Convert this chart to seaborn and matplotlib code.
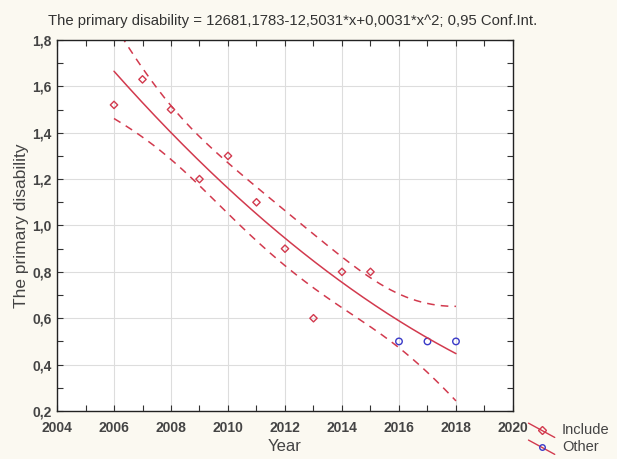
import numpy as np
import pandas as pd
import matplotlib
matplotlib.use("Agg")
import matplotlib.pyplot as plt
import seaborn as sns
from matplotlib.lines import Line2D
from matplotlib.legend_handler import HandlerLine2D
from matplotlib.ticker import MultipleLocator, FuncFormatter

# data
years_include = [2006, 2007, 2008, 2009, 2010, 2011, 2012, 2013, 2014, 2015]
vals_include = [1.52, 1.63, 1.50, 1.20, 1.30, 1.10, 0.90, 0.60, 0.80, 0.80]
years_other = [2016, 2017, 2018]
vals_other = [0.50, 0.50, 0.50]
x_ticks = [2004, 2006, 2008, 2010, 2012, 2014, 2016, 2018, 2020]
y_ticks = [0.2, 0.4, 0.6, 0.8, 1.0, 1.2, 1.4, 1.6, 1.8]
title = "The primary disability = 12681,1783-12,5031*x+0,0031*x^2; 0,95 Conf.Int."

RED = "#d23a4e"
BLUE = "#3a3ac8"
BG = "#fbf9f1"

sns.set_style("white")
plt.rcParams['font.family'] = ['Liberation Sans', 'DejaVu Sans']

# quadratic fit with 0.95 CI (all cases)
x_all = np.array(years_include + years_other, dtype=float)
y_all = np.array(vals_include + vals_other, dtype=float)
xc = x_all - x_all.mean()
X = np.column_stack([np.ones_like(xc), xc, xc ** 2])
beta, *_ = np.linalg.lstsq(X, y_all, rcond=None)
resid = y_all - X @ beta
n, p = X.shape
s2 = resid @ resid / (n - p)
cov = s2 * np.linalg.inv(X.T @ X)
tval = 2.228  # t(0.975, 10)
xs = np.linspace(x_all.min(), x_all.max(), 200)
xsc = xs - x_all.mean()
Xs = np.column_stack([np.ones_like(xsc), xsc, xsc ** 2])
fit = Xs @ beta
se = np.sqrt(np.einsum('ij,jk,ik->i', Xs, cov, Xs))
fit_df = pd.DataFrame({"x": xs, "fit": fit, "lo": fit - tval * se, "hi": fit + tval * se})

fig = plt.figure(figsize=(6.17, 4.59), dpi=100, facecolor=BG)
ax = fig.add_axes([0.0924, 0.1046, 0.739, 0.8083])
ax.set_facecolor("white")

sns.lineplot(data=fit_df, x="x", y="fit", ax=ax, color=RED, lw=1.1)
sns.lineplot(data=fit_df, x="x", y="lo", ax=ax, color=RED, lw=1.1, dashes=False, linestyle=(0, (5, 4)))
sns.lineplot(data=fit_df, x="x", y="hi", ax=ax, color=RED, lw=1.1, dashes=False, linestyle=(0, (5, 4)))

inc_df = pd.DataFrame({"x": years_include, "y": vals_include})
oth_df = pd.DataFrame({"x": years_other, "y": vals_other})
sns.scatterplot(data=inc_df, x="x", y="y", ax=ax, marker="D", s=14,
                facecolors="none", edgecolor=RED, linewidth=1.0)
sns.scatterplot(data=oth_df, x="x", y="y", ax=ax, marker="o", s=22,
                facecolors="none", edgecolor=BLUE, linewidth=1.0)

ax.set_xlim(2004, 2020)
ax.set_ylim(0.2, 1.8)
ax.set_xticks(x_ticks)
ax.set_yticks(y_ticks)
ax.xaxis.set_minor_locator(MultipleLocator(1))
ax.yaxis.set_minor_locator(MultipleLocator(0.1))
ax.yaxis.set_major_formatter(FuncFormatter(lambda v, _: f"{v:.1f}".replace(".", ",")))
ax.tick_params(which="both", direction="in", top=True, right=True, bottom=True, left=True,
               length=4, width=0.8, color="#333333")
ax.tick_params(which="major", labelsize=10, labelcolor="#444444", pad=4)
ax.tick_params(axis="x", which="major", pad=7)
for lab in ax.get_xticklabels() + ax.get_yticklabels():
    lab.set_fontweight("bold")
ax.grid(True, which="major", color="#dddddd", lw=0.8)
for sp in ax.spines.values():
    sp.set_color("#222222")
    sp.set_linewidth(1.0)

ax.set_xlabel("Year", fontsize=12, color="#444444", labelpad=3)
ax.set_ylabel("The primary disability", fontsize=12.5, color="#444444")
ax.yaxis.set_label_coords(-0.062, 0.5)
fig.text(0.078, 0.955, title, fontsize=10.7, color="#333333", ha="left", va="center")


class DiagHandler(HandlerLine2D):
    def create_artists(self, legend, orig_handle, xdescent, ydescent, width, height, fontsize, trans):
        x0, x1 = -xdescent, -xdescent + width
        y0, y1 = -ydescent + height * 1.1, -ydescent - height * 0.3
        line = Line2D([x0, x1], [y0, y1], color=RED, lw=1.0)
        mk = Line2D([(x0 + x1) / 2], [(y0 + y1) / 2], marker=orig_handle.get_marker(),
                    markersize=4, markerfacecolor="none",
                    markeredgecolor=orig_handle.get_markeredgecolor(), linestyle="none")
        line.set_transform(trans)
        mk.set_transform(trans)
        return [line, mk]


h1 = Line2D([], [], marker="D", markeredgecolor=RED, markerfacecolor="none", color=RED)
h2 = Line2D([], [], marker="o", markeredgecolor=BLUE, markerfacecolor="none", color=RED)
fig.legend([h1, h2], ["Include", "Other"], loc="lower left", bbox_to_anchor=(0.84, -0.012),
           frameon=False, handler_map={Line2D: DiagHandler()}, fontsize=10.5,
           handlelength=1.8, handletextpad=0.5, labelspacing=0.2, borderpad=0.2,
           labelcolor="#444444")

fig.savefig("out.png", dpi=100, facecolor=BG)
